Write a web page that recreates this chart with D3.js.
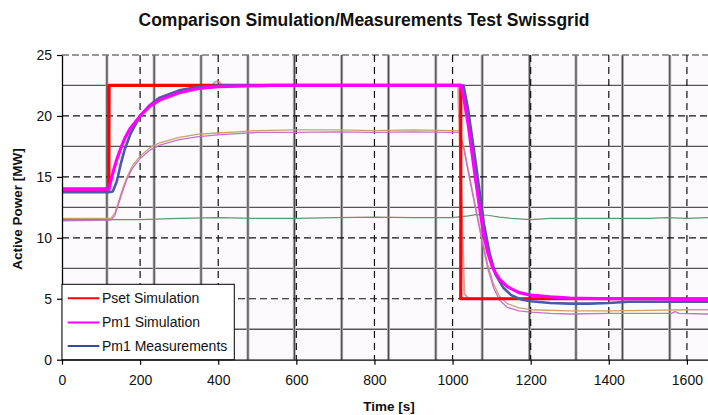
<!DOCTYPE html>
<html><head><meta charset="utf-8">
<script src="https://cdn.jsdelivr.net/npm/d3@7"></script>
<style>
html,body{margin:0;padding:0;background:#fff;}
svg{display:block;font-family:"Liberation Sans",Arial,sans-serif;}
</style></head>
<body>
<svg id="c" width="708" height="415"></svg>
<script>
// ---------- data ----------
const titleText = "Comparison Simulation/Measurements Test Swissgrid";
const xLabel = "Time [s]";
const yLabel = "Active Power [MW]";
const xTicks = [0,200,400,600,800,1000,1200,1400,1600];
const yTicks = [0,5,10,15,20,25];
const bgVertical = [115,236,356,476,595,716,836,957,1076,1197,1316,1435,1556];
const bgHorizontal = [2.5,7.5,12.5,17.5,22.5];
const legendNames = ["Pset Simulation","Pm1 Simulation","Pm1 Measurements"];

const psetSim = [[0,14],[120,14],[120,22.5],[1021,22.5],[1021,5],[1654,5]];
const psetMeas = [[0,14],[119,14],[123,22.5],[385,22.5],[390,22.75],[397,22.85],[404,22.75],[409,22.5],[1014,22.5],[1030,5.4],[1040,5.05],[1060,5.0],[1300,5.0]];
const pm1Sim = [[0,14],[120,14],[130,15.3],[140,16.4],[150,17.3],[160,18.1],[175,19.0],[200,20.0],[225,20.8],[250,21.3],[300,21.9],[350,22.25],[400,22.4],[450,22.45],[540,22.5],[1022,22.5],[1030,21.2],[1040,19.3],[1058,15.0],[1070,12.3],[1080,10.2],[1090,8.8],[1103,7.5],[1120,6.6],[1140,6.0],[1170,5.5],[1200,5.3],[1250,5.15],[1300,5.05],[1400,5.0],[1500,5.0],[1600,4.95],[1654,4.95]];
const pm1Meas = [[0,13.75],[120,13.75],[130,13.8],[140,14.6],[150,16.0],[160,17.2],[175,18.5],[200,20.0],[225,20.9],[250,21.5],[300,22.1],[350,22.4],[400,22.5],[1028,22.5],[1040,20.5],[1060,16.0],[1080,11.2],[1095,8.7],[1110,7.0],[1130,5.9],[1150,5.3],[1175,4.95],[1200,4.8],[1250,4.65],[1300,4.6],[1350,4.6],[1400,4.65],[1450,4.75],[1500,4.75],[1600,4.75],[1654,4.75]];
const otherTan = [[0,11.6],[125,11.6],[135,12.0],[145,13.0],[155,14.0],[165,14.9],[180,15.9],[200,16.7],[225,17.4],[250,17.8],[300,18.25],[350,18.5],[400,18.6],[450,18.7],[500,18.8],[600,18.85],[700,18.85],[800,18.8],[900,18.85],[1000,18.8],[1018,18.8],[1030,17.3],[1045,14.8],[1060,12.4],[1075,10.0],[1090,7.8],[1105,6.2],[1120,5.2],[1140,4.6],[1170,4.25],[1200,4.1],[1300,4.0],[1400,4.0],[1500,4.05],[1600,4.1],[1654,4.1]];
const otherPink = [[0,11.4],[125,11.45],[135,11.8],[145,12.8],[155,13.8],[165,14.7],[180,15.7],[200,16.5],[225,17.2],[250,17.6],[300,18.05],[350,18.3],[400,18.45],[450,18.55],[500,18.65],[600,18.65],[700,18.7],[800,18.65],[900,18.7],[1000,18.65],[1018,18.65],[1030,17.1],[1045,14.6],[1060,12.2],[1075,9.8],[1090,7.5],[1105,5.9],[1120,4.9],[1140,4.3],[1170,4.0],[1200,3.9],[1250,3.8],[1300,3.75],[1400,3.8],[1500,3.8],[1560,3.8],[1570,3.95],[1580,3.8],[1654,3.75]];
const otherGreen = [[0,11.5],[200,11.5],[300,11.6],[400,11.65],[500,11.6],[600,11.6],[700,11.65],[800,11.7],[900,11.65],[1000,11.65],[1040,11.8],[1060,11.9],[1090,11.85],[1120,11.7],[1150,11.6],[1200,11.5],[1250,11.6],[1300,11.6],[1400,11.6],[1500,11.6],[1550,11.65],[1600,11.6],[1654,11.65]];

// ---------- chart ----------
const svg = d3.select("#c");
const L = 62, R = 708, T = 55, B = 359.7;
const x = d3.scaleLinear().domain([0,1654]).range([L,R]);
const y = d3.scaleLinear().domain([0,25]).range([B,T]);

svg.append("rect").attr("x",L).attr("y",T).attr("width",R-L).attr("height",B-T).attr("fill","#fdfafd");

// background table grid
svg.append("g").selectAll("line").data(bgHorizontal).join("line")
  .attr("x1",L).attr("x2",R).attr("y1",d=>y(d)).attr("y2",d=>y(d))
  .attr("stroke","#555").attr("stroke-width",1.3);
svg.append("g").selectAll("line").data(bgVertical).join("line")
  .attr("x1",d=>x(d)).attr("x2",d=>x(d)).attr("y1",T).attr("y2",B)
  .attr("stroke","#b4b4b4").attr("stroke-width",3);
svg.append("g").selectAll("line").data(bgVertical).join("line")
  .attr("x1",d=>x(d)).attr("x2",d=>x(d)).attr("y1",T).attr("y2",B)
  .attr("stroke","#4a4a4a").attr("stroke-width",1.2);

// dashed major gridlines
svg.append("g").selectAll("line").data(yTicks.filter(d=>d>0&&d<25)).join("line")
  .attr("x1",L).attr("x2",R).attr("y1",d=>y(d)).attr("y2",d=>y(d))
  .attr("stroke","#111").attr("stroke-width",1.2).attr("stroke-dasharray","7,4");
svg.append("line").attr("x1",L).attr("x2",R).attr("y1",y(25)).attr("y2",y(25))
  .attr("stroke","#777").attr("stroke-width",1.5).attr("stroke-dasharray","7,3");
svg.append("g").selectAll("line").data(xTicks.filter(d=>d>0)).join("line")
  .attr("x1",d=>x(d)).attr("x2",d=>x(d)).attr("y1",T).attr("y2",B)
  .attr("stroke","#111").attr("stroke-width",1.2).attr("stroke-dasharray","7,5");

// series
const line = d3.line().x(d=>x(d[0])).y(d=>y(d[1]));
const series = [
  {d:otherGreen, c:"#5a9a70", w:1.2},
  {d:otherTan, c:"#c9a06e", w:1.3},
  {d:otherPink, c:"#c870c8", w:1.3},
  {d:psetMeas, c:"#e07878", w:2, o:0.75},
  {d:psetSim, c:"#ff0000", w:3.2},
  {d:pm1Meas, c:"#4a5aa8", w:2.6},
  {d:pm1Sim, c:"#ff00ff", w:3.2}
];
series.forEach(s=>{
  svg.append("path").datum(s.d).attr("d",line).attr("fill","none")
    .attr("stroke",s.c).attr("stroke-width",s.w).attr("stroke-opacity",s.o||1)
    .attr("stroke-linejoin","round");
});

// axes
const ax = svg.append("g").attr("transform",`translate(0,${B})`)
  .call(d3.axisBottom(x).tickValues(xTicks).tickFormat(d3.format("d")).tickSize(5).tickPadding(10).tickSizeOuter(0));
const ay = svg.append("g").attr("transform",`translate(${L},0)`)
  .call(d3.axisLeft(y).tickValues(yTicks).tickFormat(d3.format("d")).tickSize(5).tickPadding(5).tickSizeOuter(0));
[ax,ay].forEach(a=>{
  a.select(".domain").attr("stroke","#000").attr("stroke-width",1.3);
  a.selectAll(".tick line").attr("stroke","#000").attr("stroke-width",1.2);
  a.selectAll(".tick text").attr("font-family","Liberation Sans, Arial, sans-serif")
    .attr("font-size",14).attr("fill","#111");
});

// legend
const lg = svg.append("g");
lg.append("rect").attr("x",L).attr("y",284.3).attr("width",234.3-L).attr("height",B-284.3)
  .attr("fill","#fff").attr("stroke","#000").attr("stroke-width",1);
const lgColors = ["#ff0000","#ff00ff","#3a48a0"];
const lgY = [298.3,322.5,346];
legendNames.forEach((n,i)=>{
  lg.append("line").attr("x1",67.7).attr("x2",99.3).attr("y1",lgY[i]).attr("y2",lgY[i])
    .attr("stroke",lgColors[i]).attr("stroke-width",2);
  lg.append("text").attr("x",102).attr("y",lgY[i]).attr("dy","0.35em")
    .attr("font-size",14).attr("fill","#111").text(n);
});

// titles
svg.append("text").attr("x",364).attr("y",26).attr("text-anchor","middle")
  .attr("font-size",17.5).attr("font-weight","bold").attr("fill","#111").text(titleText);
svg.append("text").attr("x",389).attr("y",411).attr("text-anchor","middle")
  .attr("font-size",13.5).attr("font-weight","bold").attr("fill","#111").text(xLabel);
svg.append("text").attr("transform","translate(22,209) rotate(-90)").attr("text-anchor","middle")
  .attr("font-size",13.5).attr("font-weight","bold").attr("fill","#111").text(yLabel);
</script>
</body></html>
